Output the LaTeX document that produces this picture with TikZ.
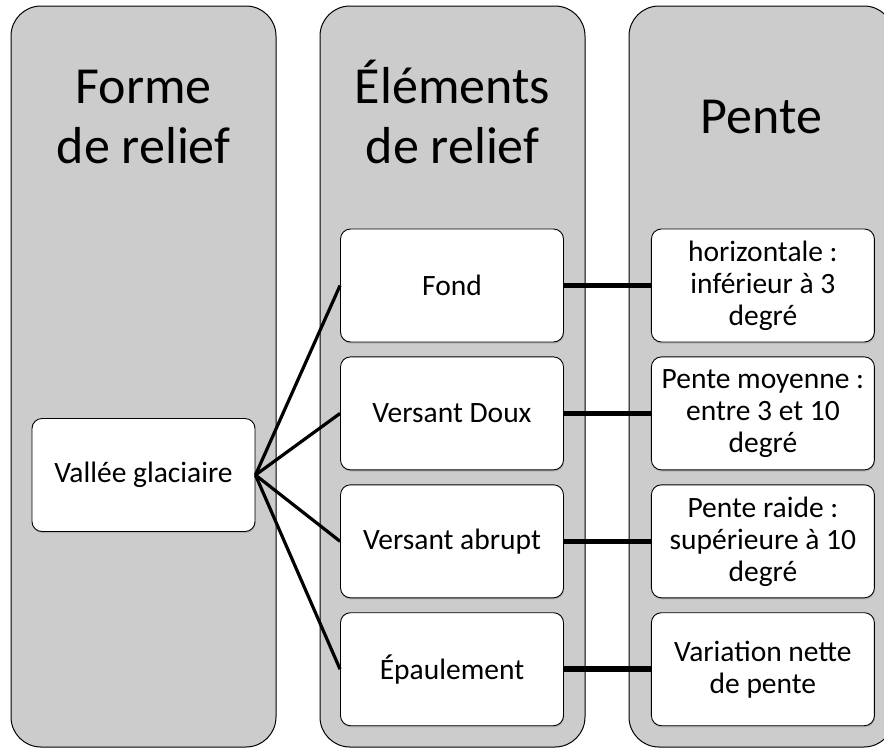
\documentclass[tikz,border=0pt]{standalone}
\usepackage{fontspec}
\setmainfont{Carlito}
\usepackage{xcolor}
\usepackage{tikz}
\usetikzlibrary{positioning,shadows}
\definecolor{colgrey}{RGB}{204,204,204}
\tikzset{
column/.style={
draw,
line width=1pt,
rounded corners=30pt,
minimum width=265pt,
minimum height=741pt,
fill=colgrey
},
header/.style={
align=center,
font=\fontsize{52}{60}\selectfont
},
box/.style={
draw,
line width=0.9pt,
rounded corners=10pt,
minimum width=223pt,
minimum height=113pt,
inner sep=0pt,
align=center,
fill=white,
drop shadow={shadow xshift=0.6pt,shadow yshift=-1.6pt,opacity=.35},
font=\fontsize{29.5}{32}\selectfont
},
fanline/.style={
line width=3.2pt
},
link/.style={
line width=5.5pt
}
}

\begin{document}
\begin{tikzpicture}[x=1pt,y=-1pt,node distance=14pt]
\clip (0,0) rectangle (884,748);
\node[column](forme) at (143.5,376.5){};
\node[column](elem) at (452.5,376.5){};
\node[column](pente) at (761.5,376.5){};

\node[header,anchor=base](hforme) at (143.5,163){Forme\\de relief};
\node[header,anchor=base](helem) at (452.5,163){Éléments\\de relief};
\node[header,anchor=base](hpente) at (761.5,133){Pente};

\node[box](vallee) at (143.5,475){Vallée glaciaire};
\node[box](fond) at (452,285.5){Fond};
\node[box,below=of fond](doux){Versant Doux};
\node[box,below=of doux](abrupt){Versant abrupt};
\node[box,below=of abrupt](epaul){Épaulement};

\node[box,right=87pt of fond](horiz){horizontale :\\inférieur à 3\\degré};
\node[box,right=87pt of doux](moyen){Pente moyenne :\\entre 3 et 10\\degré};
\node[box,right=87pt of abrupt](raide){Pente raide :\\supérieure à 10\\degré};
\node[box,right=87pt of epaul](variat){Variation nette\\de pente};

\foreach \x in {fond,doux,abrupt,epaul}
\draw[fanline](vallee.east)--(\x.west);
\foreach \x/\y in {fond/horiz,doux/moyen,abrupt/raide,epaul/variat}
\draw[link](\x.east)--(\y.west);
\end{tikzpicture}
\end{document}
